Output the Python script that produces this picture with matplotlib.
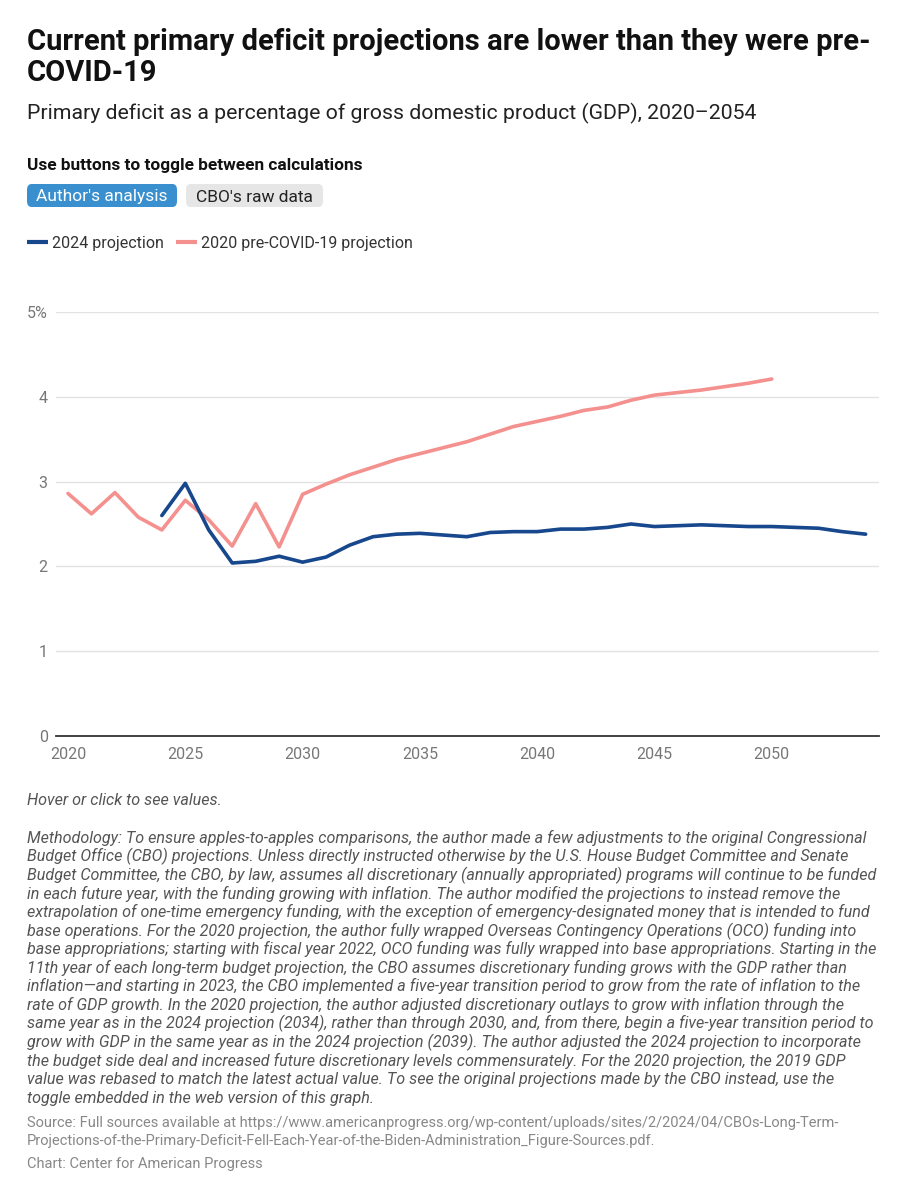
import matplotlib.pyplot as plt
from matplotlib.patches import FancyBboxPatch

plt.rcParams['font.family'] = ['Roboto', 'DejaVu Sans']

# values (% of GDP)
years_2024 = list(range(2024, 2055))
proj_2024 = [2.60, 2.98, 2.43, 2.04, 2.06, 2.12, 2.05, 2.11, 2.25, 2.35,
             2.38, 2.39, 2.37, 2.35, 2.40, 2.41, 2.41, 2.44, 2.44, 2.46,
             2.50, 2.47, 2.48, 2.49, 2.48, 2.47, 2.47, 2.46, 2.45, 2.41,
             2.38]
years_2020 = list(range(2020, 2051))
proj_2020 = [2.86, 2.62, 2.87, 2.58, 2.43, 2.78, 2.55, 2.24, 2.74, 2.23,
             2.85, 2.97, 3.08, 3.17, 3.26, 3.33, 3.40, 3.47, 3.56, 3.65,
             3.71, 3.77, 3.84, 3.88, 3.96, 4.02, 4.05, 4.08, 4.12, 4.16,
             4.21]
x_ticks = [2020, 2025, 2030, 2035, 2040, 2045, 2050]
y_ticks = [0, 1, 2, 3, 4, 5]
y_labels = ['0', '1', '2', '3', '4', '5%']

BLUE = '#17478c'
PINK = '#f4918f'
W, H = 908, 1200

fig = plt.figure(figsize=(W / 100, H / 100), dpi=100)


def fy(px):
    return 1 - px / H


def fx(px):
    return px / W


# header
fig.text(fx(27), fy(50), 'Current primary deficit projections are lower than they were pre-',
         fontsize=21, fontweight='bold', color='#111111', va='baseline')
fig.text(fx(27), fy(81), 'COVID-19', fontsize=21, fontweight='bold', color='#111111', va='baseline')
fig.text(fx(27), fy(119), 'Primary deficit as a percentage of gross domestic product (GDP), 2020\u20132054',
         fontsize=15.3, color='#222222', va='baseline')
fig.text(fx(27), fy(170), 'Use buttons to toggle between calculations',
         fontsize=12.45, fontweight='bold', color='#111111', va='baseline')

# toggle buttons
for x0, x1, txt, bg, fg in [(27, 177, "Author's analysis", '#3a8fcf', 'white'),
                            (186, 323, "CBO's raw data", '#e6e6e6', '#222222')]:
    box = FancyBboxPatch((fx(x0), fy(207)), fx(x1 - x0), (207 - 184) / H,
                         boxstyle='round,pad=0,rounding_size=0.005',
                         transform=fig.transFigure, facecolor=bg, edgecolor='none')
    fig.patches.append(box)
    fig.text(fx((x0 + x1) / 2), fy(201.5), txt, fontsize=12.5, color=fg,
             ha='center', va='baseline')

# legend
for x0, txt, c in [(27, '2024 projection', BLUE), (176, '2020 pre-COVID-19 projection', PINK)]:
    fig.lines.append(plt.Line2D([fx(x0), fx(x0 + 21)], [fy(242), fy(242)], color=c,
                                lw=3, transform=fig.transFigure, solid_capstyle='butt'))
    fig.text(fx(x0 + 25), fy(248), txt, fontsize=11.5, color='#333333', va='baseline')

# chart
ax = fig.add_axes([fx(56), fy(736), fx(879 - 56), (736 - 312) / H])
ax.plot(years_2020, proj_2020, color=PINK, lw=2.6, solid_capstyle='round', zorder=3)
ax.plot(years_2024, proj_2024, color=BLUE, lw=2.6, solid_capstyle='round', zorder=4)
ax.set_xlim(2020 - 12 / 23.46, 2020 + 811 / 23.46)
ax.set_ylim(0, 5)
ax.set_xticks(x_ticks)
ax.set_yticks(y_ticks)
ax.set_yticklabels(y_labels)
ax.grid(axis='y', color='#e3e3e3', lw=1)
ax.set_axisbelow(True)
for s in ['top', 'right', 'left']:
    ax.spines[s].set_visible(False)
ax.spines['bottom'].set_color('#333333')
ax.spines['bottom'].set_linewidth(1.3)
ax.spines['bottom'].set_zorder(5)
ax.tick_params(axis='both', length=0, labelsize=11.5, labelcolor='#777777')
ax.tick_params(axis='y', pad=6)
ax.tick_params(axis='x', pad=8)

# notes
fig.text(fx(27), fy(805), 'Hover or click to see values.', fontsize=11.6, style='italic',
         color='#555555', va='baseline')

method_lines = [
    "Methodology: To ensure apples-to-apples comparisons, the author made a few adjustments to the original Congressional",
    "Budget Office (CBO) projections. Unless directly instructed otherwise by the U.S. House Budget Committee and Senate",
    "Budget Committee, the CBO, by law, assumes all discretionary (annually appropriated) programs will continue to be funded",
    "in each future year, with the funding growing with inflation. The author modified the projections to instead remove the",
    "extrapolation of one-time emergency funding, with the exception of emergency-designated money that is intended to fund",
    "base operations. For the 2020 projection, the author fully wrapped Overseas Contingency Operations (OCO) funding into",
    "base appropriations; starting with fiscal year 2022, OCO funding was fully wrapped into base appropriations. Starting in the",
    "11th year of each long-term budget projection, the CBO assumes discretionary funding grows with the GDP rather than",
    "inflation\u2014and starting in 2023, the CBO implemented a five-year transition period to grow from the rate of inflation to the",
    "rate of GDP growth. In the 2020 projection, the author adjusted discretionary outlays to grow with inflation through the",
    "same year as in the 2024 projection (2034), rather than through 2030, and, from there, begin a five-year transition period to",
    "grow with GDP in the same year as in the 2024 projection (2039). The author adjusted the 2024 projection to incorporate",
    "the budget side deal and increased future discretionary levels commensurately. For the 2020 projection, the 2019 GDP",
    "value was rebased to match the latest actual value. To see the original projections made by the CBO instead, use the",
    "toggle embedded in the web version of this graph.",
]
for i, line in enumerate(method_lines):
    fig.text(fx(27), fy(843 + i * 18.55), line, fontsize=11.65, style='italic',
             color='#555555', va='baseline')

source_lines = [
    "Source: Full sources available at https://www.americanprogress.org/wp-content/uploads/sites/2/2024/04/CBOs-Long-Term-",
    "Projections-of-the-Primary-Deficit-Fell-Each-Year-of-the-Biden-Administration_Figure-Sources.pdf.",
]
for i, line in enumerate(source_lines):
    fig.text(fx(27), fy(1127.5 + i * 17), line, fontsize=10.5, color='#888888', va='baseline')
fig.text(fx(27), fy(1168), 'Chart: Center for American Progress', fontsize=10.5,
         color='#888888', va='baseline')

fig.savefig('out.png', dpi=100, facecolor='white')
